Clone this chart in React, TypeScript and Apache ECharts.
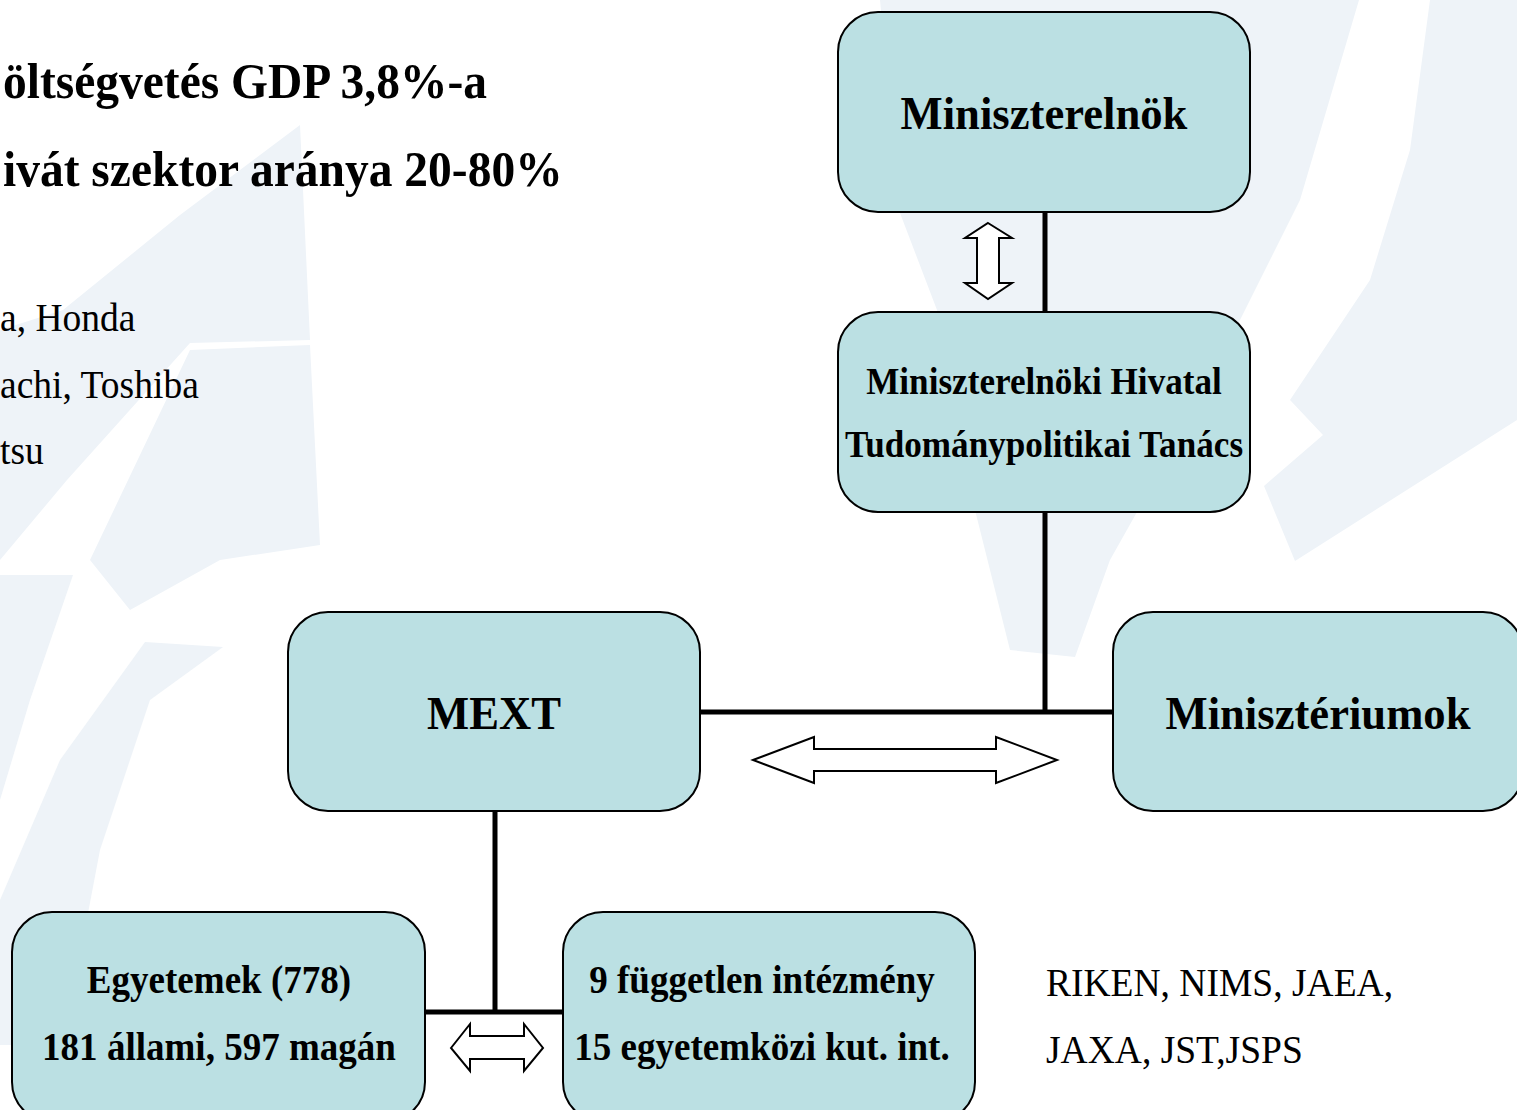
import React, { useEffect, useRef } from "react";
import * as echarts from "echarts";

// ---- content ----
const boxLabels: string[][] = [
  ["Miniszterelnök"],
  ["Miniszterelnöki Hivatal", "Tudománypolitikai Tanács"],
  ["MEXT"],
  ["Minisztériumok"],
  ["Egyetemek (778)", "181 állami, 597 magán"],
  ["9 független intézmény", "15 egyetemközi kut. int."],
];
const headlineTexts: string[] = ["öltségvetés GDP 3,8%-a", "ivát szektor aránya 20-80%"];
const companyTexts: string[] = ["a, Honda", "achi, Toshiba", "tsu"];
const instituteTexts: string[] = ["RIKEN, NIMS, JAEA,", "JAXA, JST,JSPS"];

const FONT = "'Liberation Serif', 'Times New Roman', serif";
const BOX_FILL = "#bbe0e3";
const WM = "#eef3f8";
const SX = 0.95; // reference glyphs are slightly condensed

// layout
const boxLayout: { x: number; y: number; w: number; h: number; fs: number; cx: number; lines: number[] }[] = [
  { x: 838, y: 12, w: 412, h: 200, fs: 47, cx: 1044, lines: [113] },
  { x: 838, y: 312, w: 412, h: 200, fs: 37, cx: 1044, lines: [382, 445] },
  { x: 288, y: 612, w: 412, h: 199, fs: 47, cx: 494, lines: [713] },
  { x: 1113, y: 612, w: 410, h: 199, fs: 47, cx: 1318, lines: [713] },
  { x: 12, y: 912, w: 413, h: 210, fs: 39, cx: 219, lines: [980, 1047] },
  { x: 563, y: 912, w: 412, h: 210, fs: 39, cx: 762, lines: [980, 1047] },
];

export default function App() {
  const ref = useRef<HTMLDivElement>(null);
  useEffect(() => {
    document.body.style.margin = "0";
    const chart = echarts.init(ref.current!, null, { renderer: "svg" });
    const els: any[] = [];

    // faint watermark shapes
    const wm = (pts: number[][]) =>
      els.push({ type: "polygon", shape: { points: pts }, style: { fill: WM }, silent: true });
    wm([[0, 330], [63, 310], [180, 215], [300, 125], [310, 340], [190, 343], [67, 480], [0, 560]]);
    wm([[190, 350], [310, 345], [320, 545], [220, 560], [130, 610], [90, 560]]);
    wm([[0, 575], [73, 575], [30, 700], [0, 800]]);
    wm([[145, 642], [223, 647], [150, 700], [100, 850], [63, 1045], [0, 1045], [0, 900], [60, 760]]);
    wm([[880, 0], [1359, 0], [1300, 200], [1200, 400], [1110, 560], [1075, 657], [1010, 650], [960, 450], [937, 310], [900, 213]]);
    wm([[1430, 0], [1517, 0], [1517, 420], [1295, 561], [1264, 486], [1323, 435], [1290, 400], [1370, 280], [1410, 150]]);

    // connector lines
    const line = (x1: number, y1: number, x2: number, y2: number) =>
      els.push({ type: "line", shape: { x1, y1, x2, y2 }, style: { stroke: "#000", lineWidth: 5 } });
    line(1045, 210, 1045, 314);
    line(1045, 510, 1045, 714);
    line(700, 712, 1115, 712);
    line(495, 809, 495, 1014);
    line(423, 1012, 565, 1012);

    // boxes
    boxLayout.forEach((b, i) => {
      els.push({
        type: "rect",
        shape: { x: b.x, y: b.y, width: b.w, height: b.h, r: 40 },
        style: { fill: BOX_FILL, stroke: "#000", lineWidth: 2 },
      });
      boxLabels[i].forEach((t, j) => {
        els.push({
          type: "text",
          x: b.cx,
          y: b.lines[j],
          scaleX: SX,
          style: {
            text: t,
            fill: "#000",
            font: `bold ${b.fs}px ${FONT}`,
            textAlign: "center",
            textVerticalAlign: "middle",
          },
        });
      });
    });

    // hollow double arrows
    const arrow = (pts: number[][]) =>
      els.push({ type: "polygon", shape: { points: pts }, style: { fill: "#fff", stroke: "#000", lineWidth: 2 } });
    arrow([[988, 223], [1012, 238], [999, 238], [999, 283], [1012, 283], [988, 299], [965, 283], [977, 283], [977, 238], [965, 238]]);
    arrow([[753, 760], [814, 737], [814, 749], [996, 749], [996, 737], [1057, 760], [996, 783], [996, 771], [814, 771], [814, 783]]);
    arrow([[451, 1048], [470, 1024], [470, 1036], [524, 1036], [524, 1024], [543, 1048], [524, 1071], [524, 1059], [470, 1059], [470, 1071]]);

    // free texts
    const txt = (t: string, x: number, y: number, font: string) =>
      els.push({ type: "text", x, y, scaleX: SX, style: { text: t, fill: "#000", font, textAlign: "left", textVerticalAlign: "middle" } });
    const headY = [82, 170];
    headlineTexts.forEach((t, i) => txt(t, 3, headY[i], `bold 50px ${FONT}`));
    const compY = [318, 385, 451];
    companyTexts.forEach((t, i) => txt(t, 0, compY[i], `39.5px ${FONT}`));
    const instY = [983, 1050];
    instituteTexts.forEach((t, i) => txt(t, 1046, instY[i], `39.5px ${FONT}`));

    chart.setOption({
      animation: false,
      backgroundColor: "#ffffff",
      graphic: { elements: els },
    });
    return () => chart.dispose();
  }, []);
  return <div ref={ref} style={{ width: 1517, height: 1110 }} />;
}
